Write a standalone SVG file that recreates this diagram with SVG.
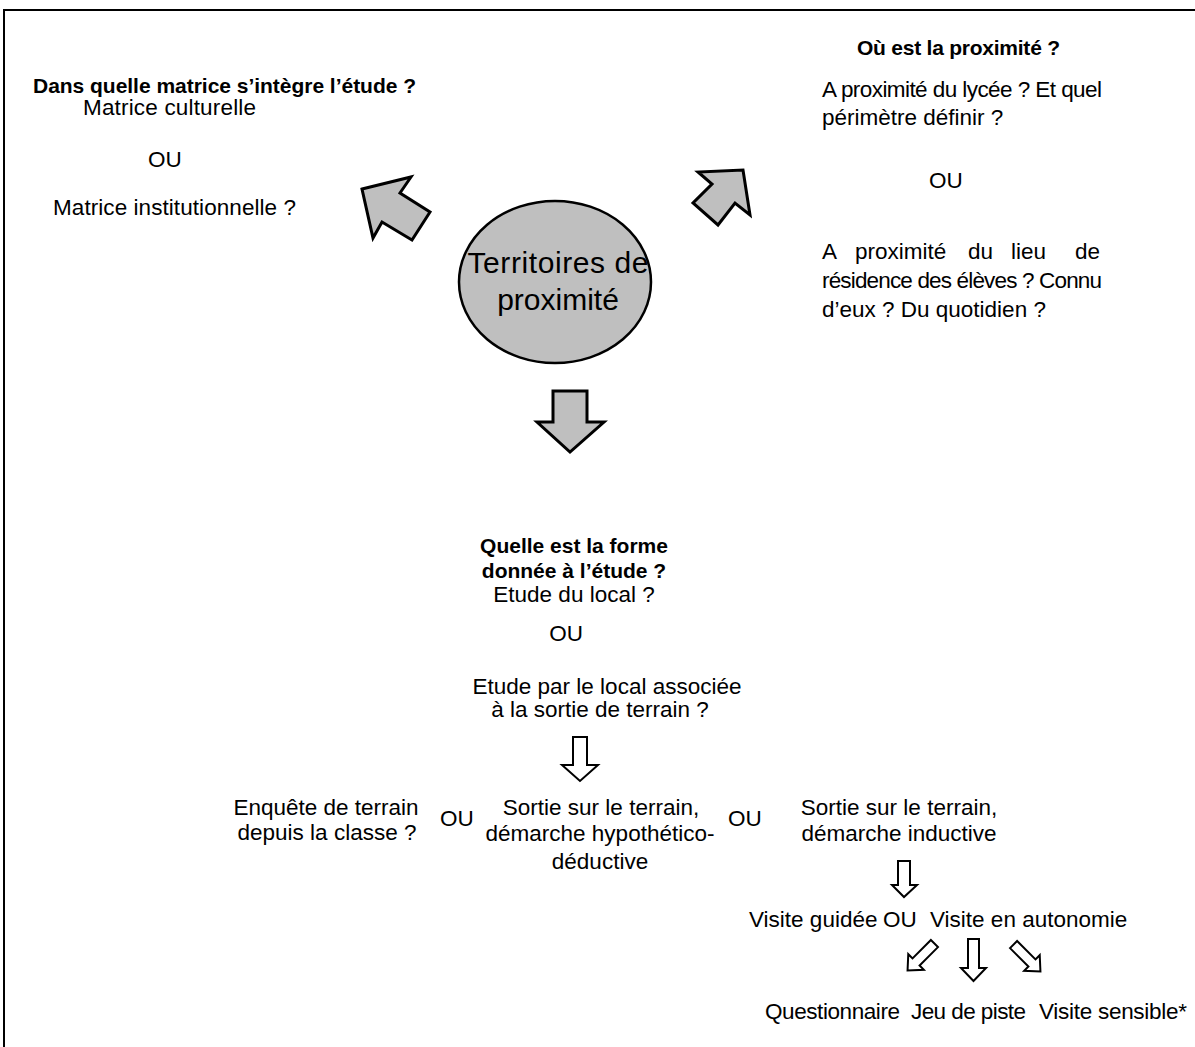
<svg xmlns="http://www.w3.org/2000/svg" width="1195" height="1047" viewBox="0 0 1195 1047">
<style>
  text { font-family: "Liberation Sans", Arial, sans-serif; font-size: 22.5px; fill: #000; }
  .b { font-weight: bold; font-size: 21px; }
  .m { text-anchor: middle; }
  .big { fill: #bfbfbf; stroke: #000; stroke-width: 3; stroke-linejoin: miter; }
  .small { fill: #fff; stroke: #000; stroke-width: 2; stroke-linejoin: miter; }
  .ttl { font-size: 30px; }
</style>
<defs>
  <path id="darrow" d="M-5,-19 L5,-19 L5,7 L11,7 L0,19 L-11,7 L-5,7 Z"/>
</defs>
<rect x="4" y="10" width="1200" height="1050" fill="#fff" stroke="#000" stroke-width="2"/>

<g id="connectors">
  <polygon class="big" points="362,189 411,177 400,193 430,212 412,240 382,222 373,238"/>
  <polygon class="big" points="743,170 750,215 735,203 718,225 693,203 712,184 698,172"/>
  <polygon class="big" points="553,391 587,391 587,422 604,422 570,452 537,422 553,422"/>
  <polygon class="small" points="573,737 587,737 587,765 598,765 580,781 562,765 573,765"/>
  <polygon class="small" points="898,861 910,861 910,885 917,885 904,897 892,885 898,885"/>
  <use href="#darrow" class="small" transform="translate(921,957) rotate(45)"/>
  <polygon class="small" points="968,939 979,939 979,968 986,968 973.5,981 961,968 968,968"/>
  <use href="#darrow" class="small" transform="translate(1027,958) rotate(-45)"/>
</g>

<g id="node-centre">
  <ellipse cx="555" cy="282" rx="96" ry="81" fill="#bfbfbf" stroke="#000" stroke-width="2.5"/>
  <text class="m ttl" x="558" y="273" textLength="181">Territoires de</text>
  <text class="m ttl" x="558" y="310">proximité</text>
</g>

<g id="node-matrice">
  <text class="b" x="33" y="93" textLength="383">Dans quelle matrice s’intègre l’étude ?</text>
  <text x="83" y="115" textLength="173">Matrice culturelle</text>
  <text x="148" y="167">OU</text>
  <text x="53" y="215" textLength="243">Matrice institutionnelle ?</text>
</g>

<g id="node-proximite">
  <text class="b" x="857" y="55" textLength="203">Où est la proximité ?</text>
  <text x="822" y="97" textLength="280">A proximité du lycée ? Et quel</text>
  <text x="822" y="125">périmètre définir ?</text>
  <text x="929" y="188">OU</text>
  <text x="822" y="259">A</text>
  <text x="855" y="259">proximité</text>
  <text x="968" y="259">du</text>
  <text x="1011" y="259">lieu</text>
  <text x="1075" y="259">de</text>
  <text x="822" y="288" textLength="280">résidence des élèves ? Connu</text>
  <text x="822" y="317">d’eux ? Du quotidien ?</text>
</g>

<g id="node-forme">
  <text class="b m" x="574" y="553">Quelle est la forme</text>
  <text class="b m" x="574" y="578">donnée à l’étude ?</text>
  <text class="m" x="574" y="602">Etude du local ?</text>
  <text class="m" x="566" y="641">OU</text>
  <text class="m" x="607" y="694">Etude par le local associée</text>
  <text class="m" x="600" y="717">à la sortie de terrain ?</text>
</g>

<g id="node-enquete">
  <text class="m" x="326" y="815">Enquête de terrain</text>
  <text class="m" x="327" y="840">depuis la classe ?</text>
</g>
<g id="node-ou1"><text x="440" y="826">OU</text></g>
<g id="node-hypo">
  <text class="m" x="601" y="815">Sortie sur le terrain,</text>
  <text class="m" x="600" y="841">démarche hypothético-</text>
  <text class="m" x="600" y="869">déductive</text>
</g>
<g id="node-ou2"><text x="728" y="826">OU</text></g>
<g id="node-inductive">
  <text class="m" x="899" y="815">Sortie sur le terrain,</text>
  <text class="m" x="899" y="841">démarche inductive</text>
</g>
<g id="node-visite">
  <text x="749" y="927">Visite guidée</text>
  <text x="883" y="927">OU</text>
  <text x="930" y="927">Visite en autonomie</text>
</g>
<g id="node-outils">
  <text x="765" y="1019" textLength="135">Questionnaire</text>
  <text x="911" y="1019" textLength="115">Jeu de piste</text>
  <text x="1039" y="1019" textLength="148">Visite sensible*</text>
</g>
</svg>
